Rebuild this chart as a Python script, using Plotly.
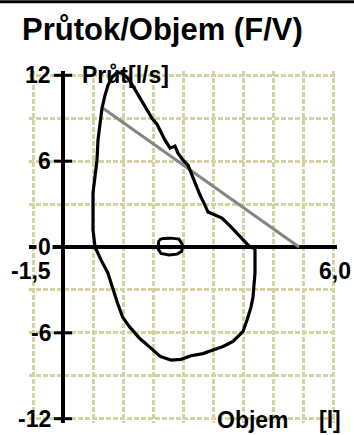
''' Flow/volume loop chart (Průtok/Objem) drawn with plotly '''
import plotly.graph_objects as go

# expiration + inspiration loop, volume [l] / flow [l/s]
objem = [0.05, 0.0, 0.0, 0.05, 0.1, 0.125, 0.175, 0.225, 0.3, 0.375, 0.475,
         0.6, 0.725, 0.875, 1.0, 1.175, 1.35, 1.475, 1.6, 1.7, 1.8, 1.925,
         2.05, 2.125, 2.25, 2.375, 2.475, 2.575, 2.675, 2.775, 2.875, 3.05,
         3.225, 3.425, 3.6, 3.725, 3.825, 3.925, 4.05, 4.05, 4.0, 3.95, 3.85,
         3.75, 3.5, 3.25, 3.0, 2.75, 2.45, 2.2, 1.95, 1.68, 1.42, 1.17, 0.92,
         0.74, 0.61, 0.5, 0.37, 0.2, 0.05]
prutok = [0.0, 1.19, 3.77, 5.02, 6.07, 7.47, 8.86, 9.7, 10.6, 11.3, 11.86,
          12.2, 12.14, 11.79, 11.24, 10.4, 9.56, 9.0, 8.58, 8.03, 7.47, 6.91,
          7.05, 6.56, 6.07, 5.72, 5.02, 4.33, 3.63, 3.07, 2.44, 2.23, 2.02,
          1.47, 0.98, 0.63, 0.28, 0.0, -0.1, -1.8, -3.5, -4.2, -5.1, -5.9,
          -6.6, -6.95, -7.2, -7.45, -7.6, -7.85, -7.9, -7.65, -7.0, -6.4,
          -5.6, -4.9, -3.9, -3.0, -1.8, -0.9, 0.0]

# small tidal loop near the end of the test
tidal_objem = [1.65, 1.75, 1.95, 2.15, 2.23, 2.22, 2.1, 1.9, 1.7, 1.62, 1.65]
tidal_prutok = [0.5, 0.6, 0.62, 0.55, 0.2, -0.3, -0.5, -0.55, -0.45, -0.1, 0.5]

# grey reference line
ref_objem = [0.25, 5.15]
ref_prutok = [9.7, 0.0]

y_ticks = [-12, -6, 0, 6, 12]
y_tick_labels = ['-12', '-6', '0', '6', '12']
x_min_label = '-1,5'
x_max_label = '6,0'
y_axis_at = -0.75

GRID = '#d3d3a4'


def label(text, x, y, anchor='right', bg=None, size=23):
    ''' text annotation in data coordinates '''
    return dict(text=text, x=x, y=y, xref='x', yref='y', showarrow=False,
                xanchor=anchor, yanchor='middle', bgcolor=bg,
                font=dict(family='Liberation Sans', size=size, color='black',
                          weight='bold'))


def draw_plot(file_name):
    ''' builds the flow/volume figure and writes it to html '''
    fig = go.Figure()

    fig.add_trace(go.Scatter(
        x=ref_objem, y=ref_prutok, mode='lines',
        line=dict(color='#858585', width=3), hoverinfo='skip'))
    fig.add_trace(go.Scatter(
        x=objem, y=prutok, mode='lines',
        line=dict(color='black', width=3.2), hoverinfo='skip'))
    fig.add_trace(go.Scatter(
        x=tidal_objem, y=tidal_prutok, mode='lines',
        line=dict(color='black', width=3), hoverinfo='skip'))
    # cross ticks on the flow axis
    fig.add_trace(go.Scatter(
        x=[y_axis_at] * len(y_ticks), y=y_ticks, mode='markers',
        marker=dict(symbol='line-ew', size=13,
                    line=dict(color='black', width=3)),
        hoverinfo='skip'))

    annotations = []
    for val, txt in zip(y_ticks, y_tick_labels):
        annotations.append(label(txt, -1.0, val,
                                 bg='white' if val == 0 else None))
    annotations.append(label(x_min_label, -1.0, -1.7))
    annotations.append(label(x_max_label, 5.6, -1.7, anchor='left'))
    annotations.append(label('Průt[l/s]', -0.33, 12.0, anchor='left'))
    annotations.append(label('Objem', 3.05, -12.1, anchor='left'))
    annotations.append(label('[l]', 5.6, -12.1, anchor='left'))

    fig.update_layout(
        width=354, height=435, autosize=False,
        margin=dict(l=29, r=17, t=71, b=12),
        paper_bgcolor='white', plot_bgcolor='white',
        showlegend=False,
        title=dict(text='Průtok/Objem (F/V)', x=22 / 354, xanchor='left',
                   xref='container', y=1 - 29 / 435, yref='container',
                   yanchor='middle',
                   font=dict(family='Liberation Sans', size=31,
                             color='black', weight='bold')),
        annotations=annotations,
        shapes=[dict(type='line', xref='paper', yref='paper',
                     x0=-0.1, x1=1.1, y0=1.197, y1=1.197,
                     line=dict(color='black', width=3))],
    )
    fig.update_xaxes(
        range=[-1.6, 6.1], tick0=-1.5, dtick=0.75,
        showgrid=True, gridcolor=GRID, gridwidth=2.5, griddash='5px,2px',
        zeroline=False, showticklabels=False, ticks='', showline=False)
    fig.update_yaxes(
        range=[-12.3, 12.3], tick0=0, dtick=3,
        showgrid=True, gridcolor=GRID, gridwidth=2.5, griddash='5px,2px',
        zeroline=True, zerolinecolor='black', zerolinewidth=3.5,
        showticklabels=False, ticks='',
        anchor='free', position=(y_axis_at + 1.6) / 7.7,
        showline=True, linecolor='black', linewidth=3.5)

    # page body has a default 8px margin, drop it so the chart sits at 0,0
    fig.write_html(file_name, config={'displayModeBar': False},
                   post_script="document.body.style.margin='0';")


def main():
    draw_plot('out.html')


if __name__ == '__main__':
    main()
